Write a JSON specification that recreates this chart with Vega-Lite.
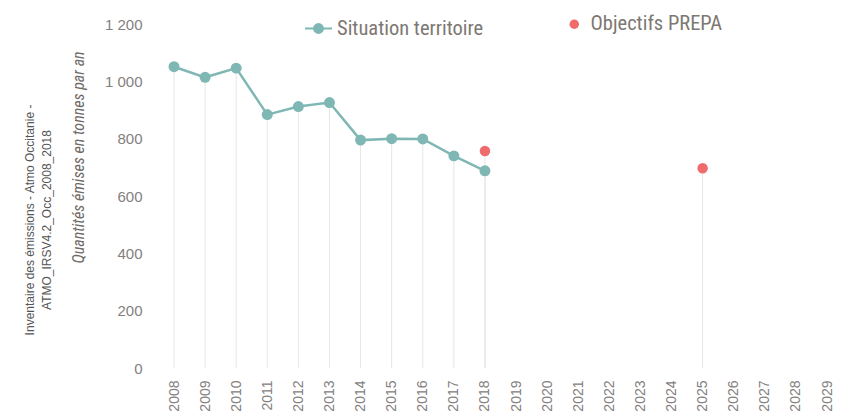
{
  "$schema": "https://vega.github.io/schema/vega-lite/v6.json",
  "width": 698,
  "height": 344,
  "autosize": "none",
  "padding": {"left": 153, "top": 24, "right": 0, "bottom": 49},
  "config": {
    "view": {"stroke": null},
    "locale": {"number": {"decimal": ",", "thousands": " ", "grouping": [3], "currency": ["", " €"]}},
    "font": "Liberation Sans"
  },
  "title": {
    "text": ["Inventaire des émissions - Atmo Occitanie -", "ATMO_IRSV4.2_Occ_2008_2018"],
    "orient": "left",
    "anchor": "middle",
    "fontSize": 12,
    "fontWeight": "normal",
    "font": "Liberation Sans",
    "color": "#555555",
    "lineHeight": 17,
    "offset": 16,
    "dx": -24
  },
  "data": {
    "values": [
      {"year": 2008, "value": 1051, "series": "Situation territoire"},
      {"year": 2009, "value": 1014, "series": "Situation territoire"},
      {"year": 2010, "value": 1046, "series": "Situation territoire"},
      {"year": 2011, "value": 884, "series": "Situation territoire"},
      {"year": 2012, "value": 912, "series": "Situation territoire"},
      {"year": 2013, "value": 926, "series": "Situation territoire"},
      {"year": 2014, "value": 795, "series": "Situation territoire"},
      {"year": 2015, "value": 800, "series": "Situation territoire"},
      {"year": 2016, "value": 799, "series": "Situation territoire"},
      {"year": 2017, "value": 740, "series": "Situation territoire"},
      {"year": 2018, "value": 688, "series": "Situation territoire"},
      {"year": 2018, "value": 757, "series": "Objectifs PREPA"},
      {"year": 2025, "value": 697, "series": "Objectifs PREPA"}
    ]
  },
  "layer": [
    {
      "data": {"values": [{}]},
      "mark": {
        "type": "rect",
        "color": {
          "gradient": "linear", "x1": 0, "y1": 0, "x2": 0, "y2": 1,
          "stops": [{"offset": 0, "color": "#fcfcfc"}, {"offset": 1, "color": "#f1f1f1"}]
        }
      },
      "encoding": {
        "y": {"datum": 1000, "type": "quantitative", "scale": {"domain": [0, 1200]}},
        "y2": {"datum": 0}
      }
    },
    {
      "data": {"values": [{}]},
      "mark": {"type": "rule", "color": "#dddddd", "strokeWidth": 1},
      "encoding": {
        "y": {"datum": 0, "type": "quantitative"}
      }
    },
    {
      "mark": {"type": "rule", "color": "#e6e6e6", "strokeWidth": 1},
      "encoding": {
        "x": {"field": "year", "type": "ordinal"},
        "y": {"field": "value", "type": "quantitative"},
        "y2": {"datum": 0}
      }
    },
    {
      "transform": [{"filter": "datum.series === 'Situation territoire'"}],
      "mark": {"type": "line", "strokeWidth": 2.5, "point": {"filled": true, "size": 120, "opacity": 1}},
      "encoding": {
        "x": {"field": "year", "type": "ordinal"},
        "y": {"field": "value", "type": "quantitative"},
        "color": {
          "field": "series", "type": "nominal",
          "scale": {"domain": ["Situation territoire"], "range": ["#7fb7b5"]},
          "legend": {
            "title": null, "orient": "none", "legendX": 151, "legendY": -10,
            "symbolType": "M-1,0L-0.3,0M0.3,0L1,0M-0.33,0A0.33,0.33,0,1,1,0.33,0A0.33,0.33,0,1,1,-0.33,0Z",
            "symbolSize": 729, "symbolFillColor": "#7fb7b5", "symbolStrokeColor": "#7fb7b5", "symbolStrokeWidth": 2,
            "labelFontSize": 20.5, "labelFont": "Roboto Condensed, Arial Narrow, DejaVu Sans Condensed, sans-serif", "labelColor": "#7d7873", "labelOffset": 4, "padding": 0
          }
        }
      }
    },
    {
      "transform": [{"filter": "datum.series === 'Objectifs PREPA'"}],
      "mark": {"type": "point", "filled": true, "size": 110, "opacity": 1},
      "encoding": {
        "x": {"field": "year", "type": "ordinal"},
        "y": {"field": "value", "type": "quantitative"},
        "color": {
          "field": "series", "type": "nominal",
          "scale": {"domain": ["Objectifs PREPA"], "range": ["#f06b6b"]},
          "legend": {
            "title": null, "orient": "none", "legendX": 411, "legendY": -10,
            "symbolType": "circle", "symbolSize": 90, "symbolOpacity": 1,
            "labelFontSize": 20.5, "labelFont": "Roboto Condensed, Arial Narrow, DejaVu Sans Condensed, sans-serif", "labelColor": "#7d7873", "labelOffset": 6, "padding": 0
          }
        }
      }
    }
  ],
  "encoding": {
    "x": {
      "field": "year", "type": "ordinal",
      "scale": {"type": "point", "domain": [2008,2009,2010,2011,2012,2013,2014,2015,2016,2017,2018,2019,2020,2021,2022,2023,2024,2025,2026,2027,2028,2029], "range": [21, 674], "padding": 0},
      "axis": {
        "title": null, "labelAngle": 270, "labelAlign": "right", "labelBaseline": "middle",
        "labelFontSize": 14, "labelColor": "#848080", "labelPadding": 12,
        "ticks": false, "domain": false, "grid": false
      }
    },
    "y": {
      "field": "value", "type": "quantitative",
      "scale": {"domain": [0, 1200]},
      "axis": {
        "title": "Quantités émises en tonnes par an",
        "titleFont": "Roboto Condensed, Arial Narrow, DejaVu Sans Condensed, sans-serif", "titleFontStyle": "italic", "titleFontWeight": "normal",
        "titleFontSize": 16, "titleColor": "#6f6a66",
        "titleX": -75, "titleY": 133, "titleAlign": "center", "titleBaseline": "middle", "titleAngle": -90,
        "values": [0, 200, 400, 600, 800, 1000, 1200],
        "labelFontSize": 15, "labelColor": "#848080", "labelPadding": 11,
        "ticks": false, "domain": false, "grid": false
      }
    }
  },
  "resolve": {"scale": {"color": "independent"}, "legend": {"color": "independent"}}
}
